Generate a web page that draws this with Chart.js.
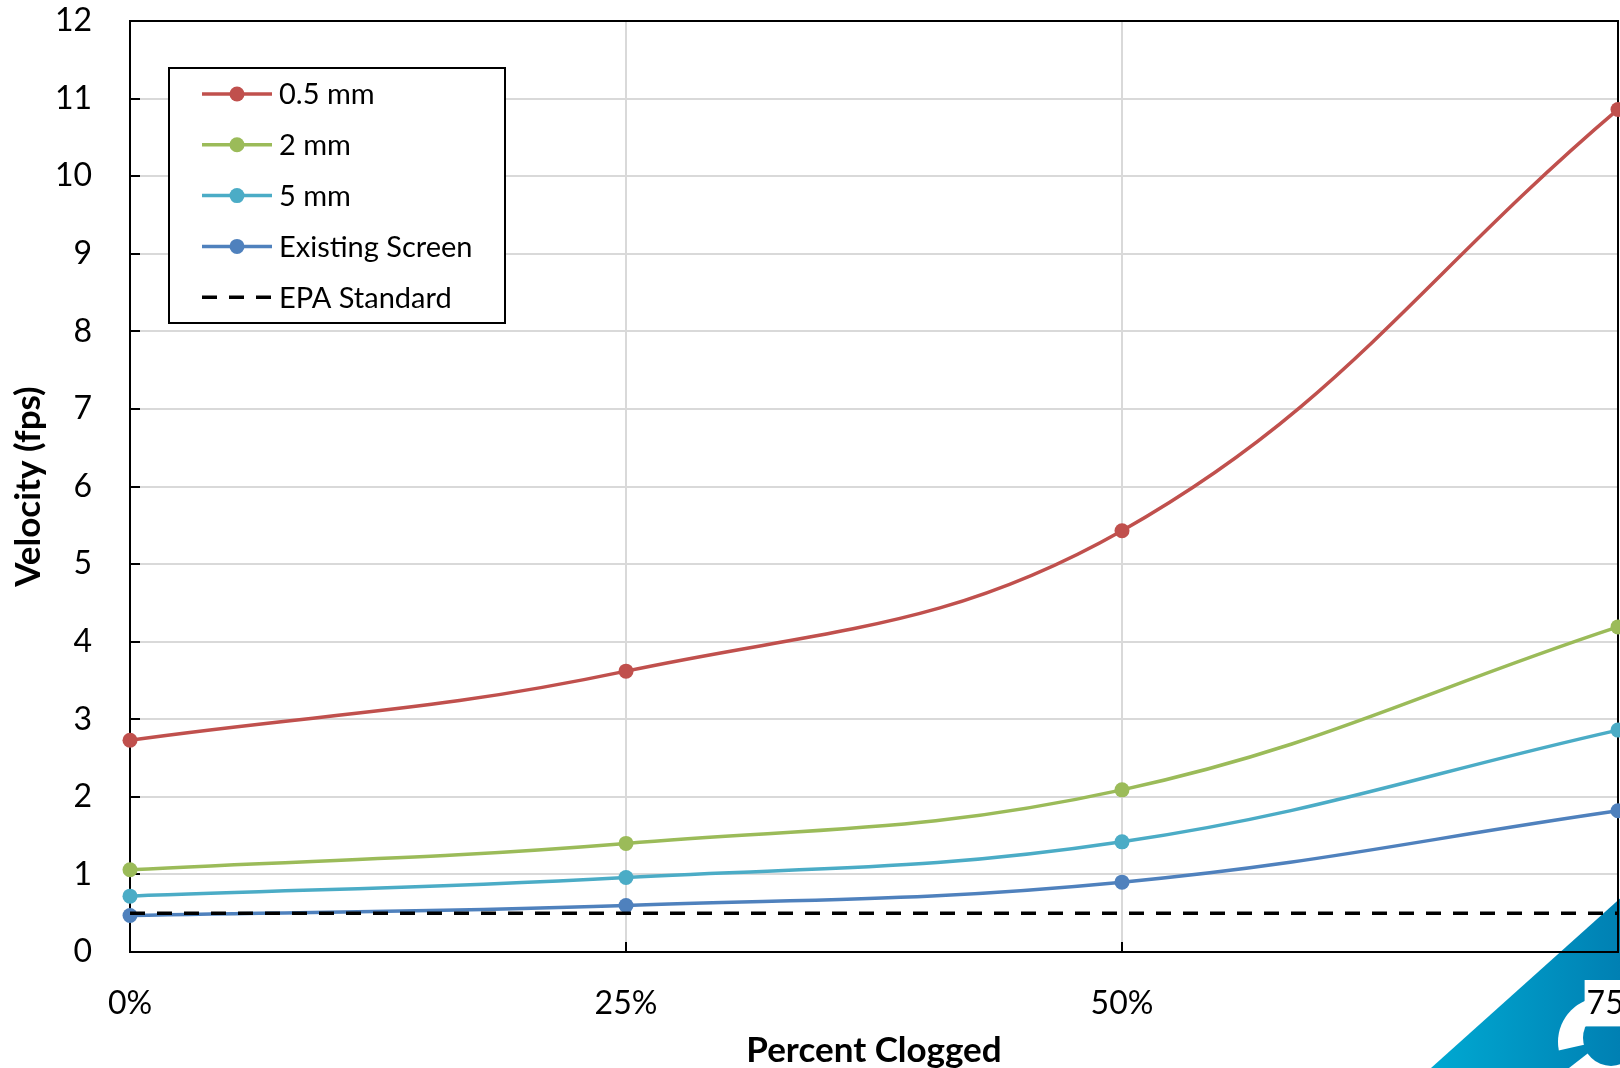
<!DOCTYPE html>
<html>
<head>
<meta charset="utf-8">
<title>Velocity vs Percent Clogged</title>
<script src="https://cdn.jsdelivr.net/npm/chart.js@4.4.1/dist/chart.umd.min.js"></script>
<style>
    html, body { margin: 0; padding: 0; background: #fff; overflow: hidden; }
    #chartWrap { width: 1680px; height: 1068px; }
</style>
</head>
<body>
<div id="chartWrap"><canvas id="chart" width="1680" height="1068"></canvas></div>
<script>
// categories (x axis)
const percentClogged = ['0%', '25%', '50%', '75%'];

// velocity (fps) per screen size
const mm05 = [2.73, 3.62, 5.43, 10.86];
const mm2 = [1.06, 1.40, 2.09, 4.19];
const mm5 = [0.72, 0.96, 1.42, 2.86];
const existingScreen = [0.47, 0.60, 0.90, 1.82];
const epaStandard = [0.5, 0.5, 0.5, 0.5];

const yTicks = [0, 1, 2, 3, 4, 5, 6, 7, 8, 9, 10, 11, 12];

const FONT = 'Lato, "Open Sans", sans-serif';

const colors = {
    mm05: '#C0504D',
    mm2: '#9BBB59',
    mm5: '#4BACC6',
    existing: '#4F81BD',
    epa: '#000000'
};

function seriesDataset(label, data, color, order) {
    return {
        label: label,
        data: data,
        borderColor: color,
        backgroundColor: color,
        borderWidth: 3.5,
        tension: 0.4,
        fill: false,
        pointRadius: 7.5,
        pointBackgroundColor: color,
        pointBorderColor: color,
        pointBorderWidth: 0,
        clip: false,
        order: order
    };
}

// Blue corner badge that sits behind the plot (bottom right)
const cornerBadge = {
    id: 'cornerBadge',
    beforeDraw(chart) {
        const ctx = chart.ctx;
        ctx.save();
        const grad = ctx.createLinearGradient(1431, 0, 1620, 0);
        grad.addColorStop(0, '#00A9D2');
        grad.addColorStop(1, '#0080B3');
        ctx.beginPath();
        ctx.moveTo(1431, 1068);
        ctx.lineTo(1625, 894);
        ctx.lineTo(1625, 1068);
        ctx.closePath();
        ctx.fillStyle = grad;
        ctx.fill();
        ctx.clip();
        // rough white swirl
        ctx.fillStyle = '#fff';
        ctx.beginPath();
        ctx.arc(1603, 1042, 45, 0, Math.PI * 2);
        ctx.fill();
        ctx.fillStyle = grad;
        ctx.beginPath();
        ctx.arc(1611, 1038, 28, 0, Math.PI * 2);
        ctx.fill();
        ctx.beginPath();
        ctx.moveTo(1605, 1040);
        ctx.lineTo(1552, 1052);
        ctx.lineTo(1560, 1075);
        ctx.closePath();
        ctx.fill();
        ctx.restore();
    }
};

// Black frame round the plot area (top and right sides)
const plotFrame = {
    id: 'plotFrame',
    beforeDatasetsDraw(chart) {
        const { ctx, chartArea: a } = chart;
        ctx.save();
        ctx.strokeStyle = '#000';
        ctx.lineWidth = 2;
        ctx.beginPath();
        ctx.moveTo(a.left, a.top);
        ctx.lineTo(a.right, a.top);
        ctx.lineTo(a.right, a.bottom);
        ctx.stroke();
        ctx.restore();
    }
};

// Boxed legend inside the plot, top left
const boxLegend = {
    id: 'boxLegend',
    afterDatasetsDraw(chart) {
        const ctx = chart.ctx;
        const box = { x: 169, y: 68, w: 336, h: 255 };
        ctx.save();
        ctx.fillStyle = '#fff';
        ctx.fillRect(box.x, box.y, box.w, box.h);
        ctx.strokeStyle = '#000';
        ctx.lineWidth = 2;
        ctx.strokeRect(box.x, box.y, box.w, box.h);

        ctx.font = '29px ' + FONT;
        ctx.textBaseline = 'middle';
        ctx.textAlign = 'left';
        chart.data.datasets.forEach((ds, i) => {
            const y = 94 + i * 50.8;
            ctx.strokeStyle = ds.borderColor;
            ctx.lineWidth = ds.borderWidth;
            ctx.setLineDash(ds.borderDash || []);
            ctx.beginPath();
            ctx.moveTo(202, y);
            ctx.lineTo(272, y);
            ctx.stroke();
            ctx.setLineDash([]);
            if (ds.pointRadius > 0) {
                ctx.fillStyle = ds.pointBackgroundColor;
                ctx.beginPath();
                ctx.arc(237, y, 7.5, 0, Math.PI * 2);
                ctx.fill();
            }
            ctx.fillStyle = '#000';
            ctx.fillText(ds.label, 279, y + 1);
        });
        ctx.restore();
    }
};

function buildChart() {
    const ctx = document.getElementById('chart').getContext('2d');
    new Chart(ctx, {
        type: 'line',
        data: {
            labels: percentClogged,
            datasets: [
                seriesDataset('0.5 mm', mm05, colors.mm05, 4),
                seriesDataset('2 mm', mm2, colors.mm2, 3),
                seriesDataset('5 mm', mm5, colors.mm5, 2),
                seriesDataset('Existing Screen', existingScreen, colors.existing, 1),
                {
                    label: 'EPA Standard',
                    data: epaStandard,
                    borderColor: colors.epa,
                    backgroundColor: colors.epa,
                    borderWidth: 3.5,
                    borderDash: [15, 12],
                    tension: 0,
                    fill: false,
                    pointRadius: 0,
                    clip: false,
                    order: 0
                }
            ]
        },
        options: {
            responsive: false,
            devicePixelRatio: 1,
            animation: false,
            layout: {
                padding: { left: 0, right: 62, top: 21, bottom: 0 }
            },
            plugins: {
                legend: { display: false },
                tooltip: { enabled: false }
            },
            scales: {
                x: {
                    type: 'category',
                    offset: false,
                    grid: {
                        color: '#D9D9D9',
                        lineWidth: 2,
                        drawTicks: true,
                        tickLength: -10,
                        tickColor: '#000',
                        tickWidth: 2
                    },
                    border: { color: '#000', width: 2 },
                    ticks: {
                        color: '#000',
                        font: { family: FONT, size: 32 },
                        padding: 42,
                        maxRotation: 0,
                        autoSkip: false,
                        showLabelBackdrop: true,
                        backdropColor: '#fff',
                        backdropPadding: { x: 2, y: 4 }
                    },
                    title: {
                        display: true,
                        text: 'Percent Clogged',
                        color: '#000',
                        font: { family: FONT, size: 35, weight: 'bold', lineHeight: 1 },
                        padding: { top: 0, bottom: 0 }
                    },
                    afterFit(scale) {
                        scale.height = 116;
                        scale.paddingLeft = 0;
                        scale.paddingRight = 0;
                    }
                },
                y: {
                    min: 0,
                    max: 12,
                    grid: {
                        color: '#D9D9D9',
                        lineWidth: 2,
                        drawTicks: true,
                        tickLength: -10,
                        tickColor: '#000',
                        tickWidth: 2
                    },
                    border: { color: '#000', width: 2 },
                    afterBuildTicks(scale) {
                        scale.ticks = yTicks.map(v => ({ value: v }));
                    },
                    ticks: {
                        color: '#000',
                        font: { family: FONT, size: 32 },
                        padding: 48
                    },
                    title: {
                        display: true,
                        text: 'Velocity (fps)',
                        color: '#000',
                        font: { family: FONT, size: 35, weight: 'bold', lineHeight: 1 },
                        padding: { top: 11, bottom: 0 }
                    },
                    afterFit(scale) {
                        scale.width = 130;
                        scale.paddingTop = 0;
                        scale.paddingBottom = 0;
                    }
                }
            }
        },
        plugins: [cornerBadge, plotFrame, boxLegend]
    });
}

if (document.fonts && document.fonts.load) {
    Promise.all([
        document.fonts.load('32px Lato'),
        document.fonts.load('bold 35px Lato')
    ]).then(buildChart, buildChart);
} else {
    buildChart();
}
</script>
</body>
</html>
